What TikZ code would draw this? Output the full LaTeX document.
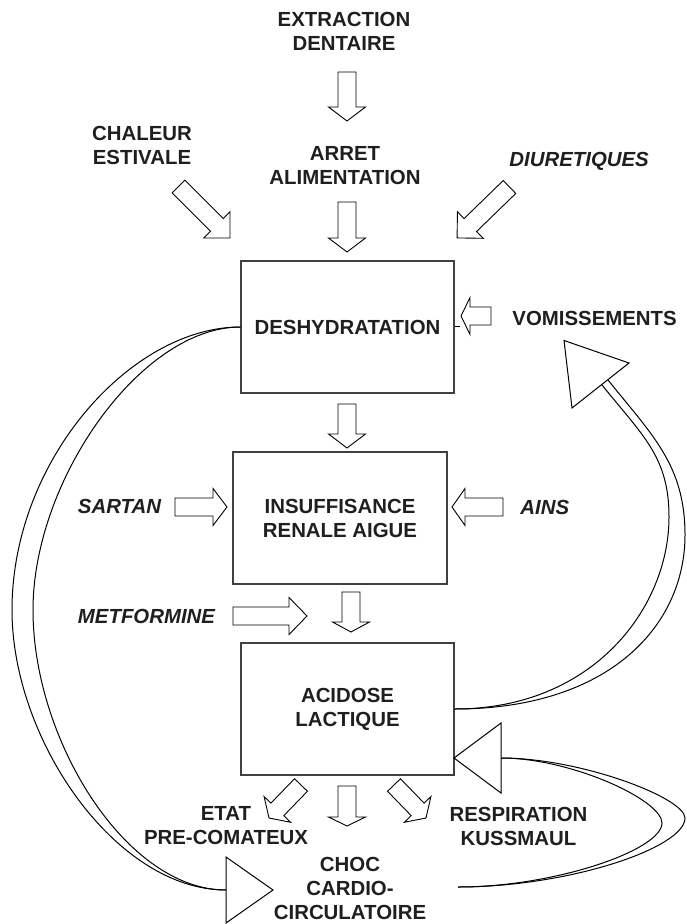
\documentclass[tikz,border=0pt]{standalone}
\usepackage{fontspec}
\setmainfont{Liberation Sans}
\usetikzlibrary{calc}

% hollow block arrow from a tail coordinate to a tip coordinate
\newcommand{\hollowarrow}[3][7pt]{%
  \draw[blockarrow] let \p1=(#2), \p2=(#3),
      \n1={atan2(\y2-\y1,\x2-\x1)}, \n2={veclen(\x2-\x1,\y2-\y1)} in
    [shift={(\p1)}, rotate=\n1]
    (0pt,-4.5pt) -- ({\n2-#1},-4.5pt) -- ({\n2-#1},-9.25pt) -- ({\n2*1pt},0pt)
    -- ({\n2-#1},9.25pt) -- ({\n2-#1},4.5pt) -- (0pt,4.5pt) -- cycle;}

\begin{document}
\begin{tikzpicture}[x=0.5pt,y=-0.5pt,
    txt/.style={font=\bfseries\fontsize{10.2}{12}\selectfont, align=center, text=black!88, inner sep=0pt},
    itxt/.style={txt, font=\bfseries\itshape\fontsize{10.2}{12}\selectfont},
    box/.style={txt, draw=black!75, line width=0.6pt, minimum width=106.5pt, minimum height=66pt},
    blockarrow/.style={draw=black, line width=0.45pt, fill=white, line join=miter},
    loopline/.style={draw=black, line width=0.5pt},
    bigtip/.style={draw=black, line width=0.5pt, fill=white}]
  \useasboundingbox (0,0) rectangle (686,924);

  % boxes
  \node[box] (desh) at (347.5,327) {DESHYDRATATION};
  \node[box, minimum width=107pt] (irenal) at (340,518) {INSUFFISANCE\\RENALE AIGUE};
  \node[box] (acid) at (347.5,709) {ACIDOSE\\LACTIQUE};

  % labels
  \node[txt] (extr) at (344,31) {EXTRACTION\\DENTAIRE};
  \node[txt] (arret) at (345,166) {ARRET\\ALIMENTATION};
  \node[txt] (chal) at (142,145) {CHALEUR\\ESTIVALE};
  \node[itxt, anchor=west] (diur) at (509,161) {DIURETIQUES};
  \node[txt, anchor=west] (vomi) at (512,318) {VOMISSEMENTS};
  \node[itxt] (sart) at (119.5,506) {SARTAN};
  \node[itxt, anchor=west] (ains) at (520,507) {AINS};
  \node[itxt] (metf) at (146.5,616) {METFORMINE};
  \node[txt] (etat) at (226,826) {ETAT\\PRE-COMATEUX};
  \node[txt] (resp) at (518.5,826) {RESPIRATION\\KUSSMAUL};
  \node[txt] (choc) at (350,888) {CHOC\\CARDIO-\\CIRCULATOIRE};

  % arrow ends
  \coordinate (extr-s) at (347,72);    \coordinate (extr-e) at (347,121);
  \coordinate (arret-s) at (347,202);  \coordinate (arret-e) at (347,252);
  \coordinate (chal-s) at (178.5,186.5); \coordinate (chal-e) at (230,238);
  \coordinate (diur-s) at (509.5,187); \coordinate (diur-e) at (457,238);
  \coordinate (vomi-s) at (491,316);   \coordinate (vomi-e) at (461,316);
  \coordinate (desh-s) at (347,404);   \coordinate (desh-e) at (347,448);
  \coordinate (sart-s) at (175,507);   \coordinate (sart-e) at (227,507);
  \coordinate (ains-s) at (503,507);   \coordinate (ains-e) at (452,507);
  \coordinate (metf-s) at (233,616);   \coordinate (metf-e) at (307,616);
  \coordinate (irenal-s) at (351,592); \coordinate (irenal-e) at (351,632);
  \coordinate (etat-s) at (301,785);   \coordinate (etat-e) at (269,818);
  \coordinate (choc-s) at (347,786);   \coordinate (choc-e) at (347,826);
  \coordinate (resp-s) at (394,785);   \coordinate (resp-e) at (426,818);
  \coordinate (desh-stub) at (460,327);
  \coordinate (chocin) at (226,890);
  \coordinate (chocout) at (458,887);
  \coordinate (acidin) at (501,758);
  \coordinate (vomin) at (600.5,385.5);
  \coordinate (vomin-o) at (608,380);
  \coordinate (vomin-i) at (602,385);

  \hollowarrow{extr-s}{extr-e}
  \hollowarrow{arret-s}{arret-e}
  \hollowarrow[9.25pt]{chal-s}{chal-e}
  \hollowarrow[9.25pt]{diur-s}{diur-e}
  \hollowarrow[4.5pt]{vomi-s}{vomi-e}
  \hollowarrow{desh-s}{desh-e}
  \hollowarrow{sart-s}{sart-e}
  \hollowarrow[6.5pt]{ains-s}{ains-e}
  \hollowarrow[9pt]{metf-s}{metf-e}
  \hollowarrow[5pt]{irenal-s}{irenal-e}
  \hollowarrow[6pt]{etat-s}{etat-e}
  \hollowarrow[4.5pt]{choc-s}{choc-e}
  \hollowarrow[6pt]{resp-s}{resp-e}
  \draw[loopline] (desh.east) -- (desh-stub);

  % loops
  \draw[loopline] (desh.west) .. controls (131,327) and (12,460) .. (12,610)
    .. controls (12,740) and (116,890) .. (chocin);
  \draw[loopline] (desh.west) .. controls (141,327) and (33,480) .. (33,610)
    .. controls (33,740) and (126,890) .. (chocin);
  \draw[loopline] (acid.east) .. controls (610,709) and (685,625) .. (685,535)
    .. controls (685,465) and (652,435) .. (vomin-o);
  \draw[loopline] (acid.east) .. controls (594,709) and (669,607) .. (669,517)
    .. controls (669,457) and (643,436) .. (vomin-i);
  \draw[loopline] (acidin) .. controls (581,758) and (685,798) .. (685,818)
    .. controls (685,848) and (568,887) .. (chocout);
  \draw[loopline] (acidin) .. controls (571,758) and (662,800) .. (662,823)
    .. controls (662,850) and (555,887) .. (chocout);

  % heads of the loops
  \draw[bigtip] (vomin) ++(28.5,-22.5) -- ++(-57,45) -- ++(-8,-67.5) -- cycle;
  \draw[bigtip] (acidin) ++(0,-35) -- ++(-47,35) -- ++(47,35) -- cycle;
  \draw[bigtip] (chocin) ++(0,-33) -- ++(47,33) -- ++(-47,33) -- cycle;
\end{tikzpicture}
\end{document}
